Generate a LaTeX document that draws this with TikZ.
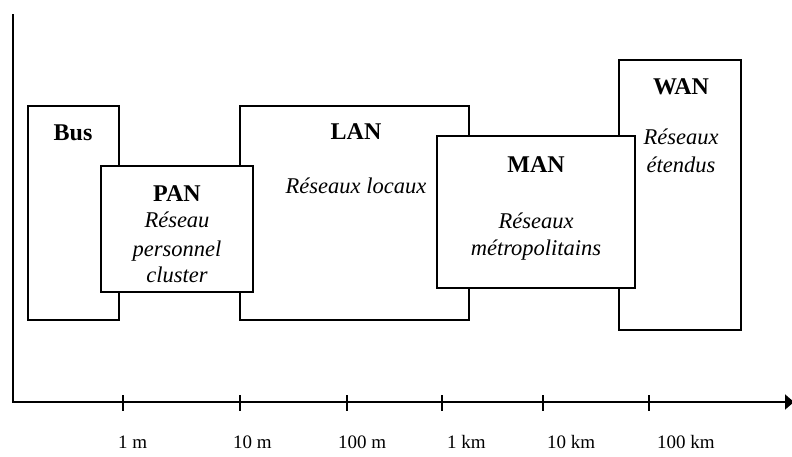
\documentclass[tikz,border=0pt]{standalone}
\usepackage{fontspec}
\setmainfont{Liberation Serif}
\usetikzlibrary{arrows.meta}
\begin{document}
\begin{tikzpicture}[x=1pt,y=-1pt,
  netbox/.style={draw, line width=1.8pt, fill=white, inner sep=0pt, outer sep=0pt},
  title/.style={anchor=base, font=\fontsize{24}{26}\selectfont\bfseries, inner sep=0pt},
  desc/.style={anchor=base, font=\fontsize{22.5}{26}\selectfont\itshape, inner sep=0pt},
  tick/.style={line width=1.6pt},
  scalelab/.style={anchor=base west, font=\fontsize{19}{22}\selectfont, inner sep=0pt}]
\useasboundingbox (0,0) rectangle (792,456);
% axes
\coordinate (top) at (13,14);
\coordinate (o) at (13,402);
\coordinate (end) at (794,402);
\draw[line width=1.8pt, -{Triangle[length=9pt,width=15pt]}] (top) -- (o) -- (end);
% boxes (back)
\node[netbox, minimum width=91pt, minimum height=214pt] (bus) at (73.5,213) {};
\node[netbox, minimum width=229pt, minimum height=214pt] (lan) at (354.5,213) {};
\node[netbox, minimum width=122pt, minimum height=270pt] (wan) at (680,195) {};
% boxes (front)
\node[netbox, minimum width=152pt, minimum height=126pt] (pan) at (177,229) {};
\node[netbox, minimum width=198pt, minimum height=152pt] (man) at (536,212) {};
% texts
\node[title] (tbus) at (73,140) {Bus};
\node[title] (tpan) at (177,201) {PAN};
\node[desc] (dpan1) at (177,227) {Réseau};
\node[desc] (dpan2) at (177,256) {personnel};
\node[desc] (dpan3) at (177,282) {cluster};
\node[title] (tlan) at (356,139) {LAN};
\node[desc] (dlan) at (356,193) {Réseaux locaux};
\node[title] (tman) at (536,172) {MAN};
\node[desc] (dman1) at (536,228) {Réseaux};
\node[desc] (dman2) at (536,255) {métropolitains};
\node[title] (twan) at (681,94) {WAN};
\node[desc] (dwan1) at (681,144) {Réseaux};
\node[desc] (dwan2) at (681,172) {étendus};
% ticks
\foreach \x/\lx/\t [count=\i] in {123/118/1 m, 240/233/10 m, 347/338/100 m, 442/447/1 km, 543/547/10 km, 649/657/100 km}{
  \coordinate (tk\i) at (\x,395);
  \coordinate (tb\i) at (\x,411);
  \draw[tick] (tk\i) -- (tb\i);
  \node[scalelab] (lab\i) at (\lx,448) {\t};
}
\end{tikzpicture}
\end{document}
